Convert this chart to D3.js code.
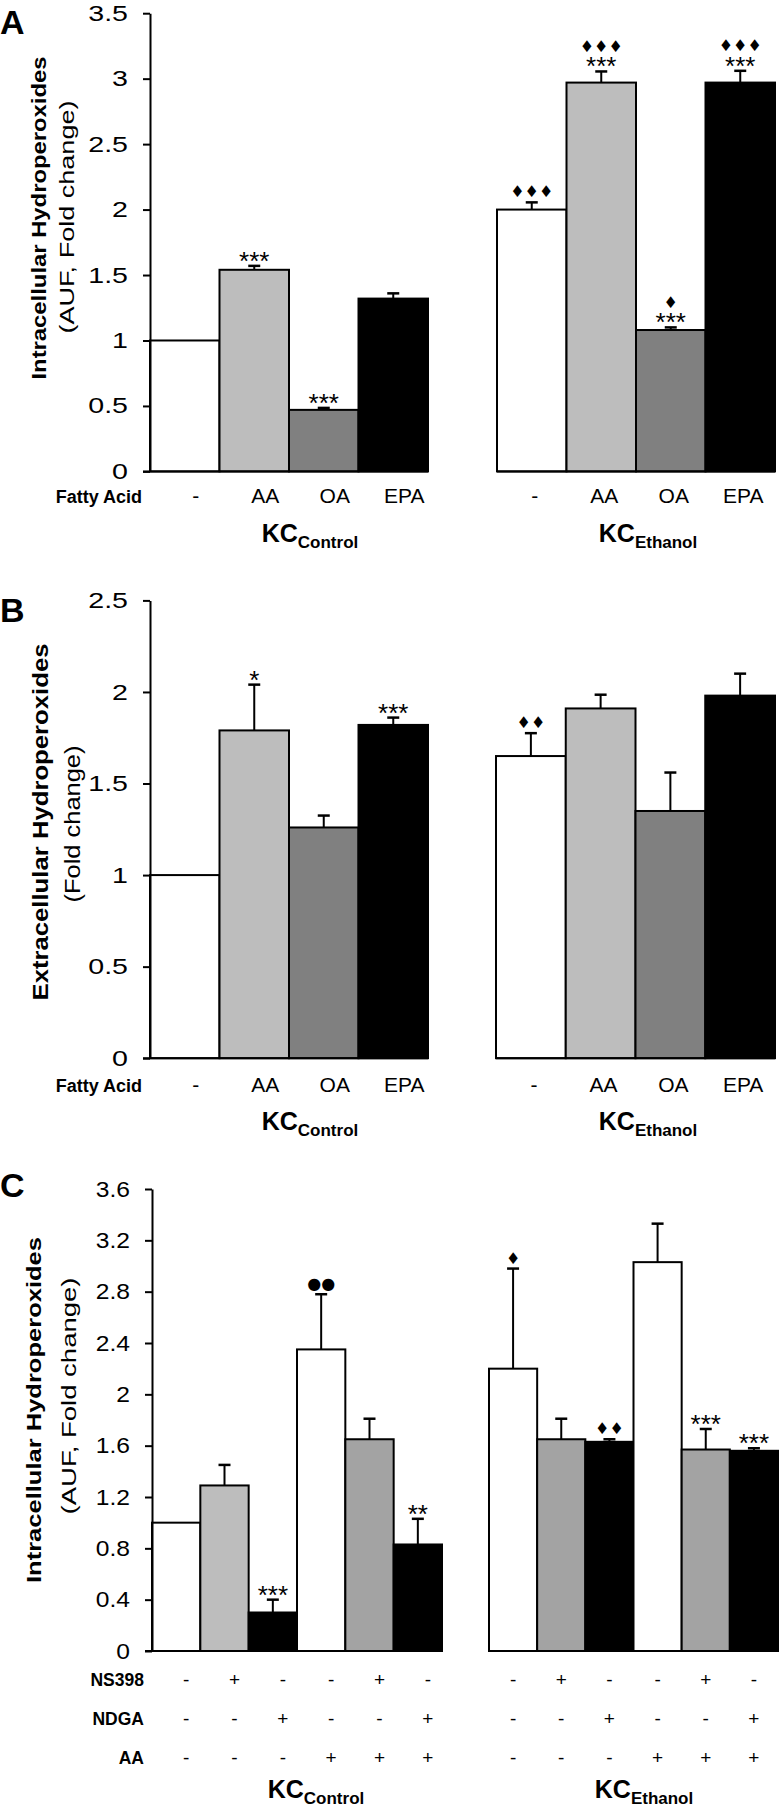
<!DOCTYPE html>
<html><head><meta charset="utf-8">
<script src="https://cdn.jsdelivr.net/npm/d3@7"></script>
<style>body{margin:0;background:#fff}</style>
</head><body><svg id="c" width="780" height="1810" xmlns="http://www.w3.org/2000/svg"></svg>
<script>
// ---------------- DATA ----------------
const fattyAcids = ["-", "AA", "OA", "EPA"];
const groupNames = ["Control", "Ethanol"];
const fattyColors = ["#ffffff", "#bdbdbd", "#808080", "#000000"];

// Panel A: intracellular hydroperoxides (AUF, fold change)
const intraTicks = [0, 0.5, 1, 1.5, 2, 2.5, 3, 3.5];
const intraCtrlMean = [1.00, 1.54, 0.47, 1.32];
const intraCtrlErr  = [0, 0.03, 0.015, 0.04];
const intraEthMean  = [2.00, 2.97, 1.08, 2.97];
const intraEthErr   = [0.055, 0.085, 0.02, 0.09];
const intraCtrlStars = ["", "***", "***", ""];
const intraCtrlMarks = ["", "", "", ""];
const intraEthStars  = ["", "***", "***", "***"];
const intraEthMarks  = ["\u2666\u2666\u2666", "\u2666\u2666\u2666", "\u2666", "\u2666\u2666\u2666"];

// Panel B: extracellular hydroperoxides (fold change)
const extraTicks = [0, 0.5, 1, 1.5, 2, 2.5];
const extraCtrlMean = [1.00, 1.79, 1.26, 1.82];
const extraCtrlErr  = [0, 0.25, 0.065, 0.04];
const extraEthMean  = [1.65, 1.91, 1.35, 1.98];
const extraEthErr   = [0.125, 0.075, 0.21, 0.12];
const extraCtrlStars = ["", "*", "", "***"];
const extraCtrlMarks = ["", "", "", ""];
const extraEthStars  = ["", "", "", ""];
const extraEthMarks  = ["\u2666\u2666", "", "", ""];

// Panel C: inhibitors
const inhibTicks = [0, 0.4, 0.8, 1.2, 1.6, 2, 2.4, 2.8, 3.2, 3.6];
const inhibRows = ["NS398", "NDGA", "AA"];
const ns398Row = ["-", "+", "-", "-", "+", "-"];
const ndgaRow  = ["-", "-", "+", "-", "-", "+"];
const aaRow    = ["-", "-", "-", "+", "+", "+"];
const inhibCtrlMean = [1.00, 1.29, 0.30, 2.35, 1.65, 0.83];
const inhibCtrlErr  = [0, 0.16, 0.10, 0.43, 0.16, 0.20];
const inhibEthMean  = [2.20, 1.65, 1.63, 3.03, 1.57, 1.56];
const inhibEthErr   = [0.78, 0.16, 0.02, 0.30, 0.16, 0.02];
const inhibCtrlColors = ["#ffffff", "#bdbdbd", "#000000", "#ffffff", "#a3a3a3", "#000000"];
const inhibEthColors  = ["#ffffff", "#a3a3a3", "#000000", "#ffffff", "#a3a3a3", "#000000"];
const inhibCtrlStars = ["", "", "***", "", "", "**"];
const inhibCtrlMarks = ["", "", "", "\u25CF\u25CF", "", ""];
const inhibEthStars  = ["", "", "", "", "***", "***"];
const inhibEthMarks  = ["\u2666", "", "\u2666\u2666", "", "", ""];

// ---------------- DRAWING ----------------
const FONT = "'Liberation Sans', Arial, Helvetica, sans-serif";
const SYM = "'DejaVu Sans', sans-serif";
const svg = d3.select("#c");

function drawPanel(cfg) {
  const y = d3.scaleLinear().domain([0, cfg.ticks[cfg.ticks.length - 1]]).range([cfg.yBase, cfg.yTop]);

  cfg.groups.forEach((g, gi) => {
    const x = d3.scaleBand().domain(d3.range(g.mean.length)).range([g.x0, g.x1]).padding(0);
    const gg = svg.append("g");
    // bars
    gg.selectAll("rect").data(g.mean).join("rect")
      .attr("x", (d, i) => x(i)).attr("width", x.bandwidth())
      .attr("y", d => y(d)).attr("height", d => y(0) - y(d))
      .attr("fill", (d, i) => g.colors[i]).attr("stroke", "#000").attr("stroke-width", 2);
    // error bars
    g.mean.forEach((m, i) => {
      const e = g.err[i];
      if (!e) return;
      const cx = x(i) + x.bandwidth() / 2;
      gg.append("line").attr("x1", cx).attr("x2", cx).attr("y1", y(m)).attr("y2", y(m + e))
        .attr("stroke", "#000").attr("stroke-width", 2);
      gg.append("line").attr("x1", cx - 6).attr("x2", cx + 6).attr("y1", y(m + e)).attr("y2", y(m + e))
        .attr("stroke", "#000").attr("stroke-width", 2.5);
    });
    // significance marks (one text element per bar, stacked lines)
    g.mean.forEach((m, i) => {
      const s = g.stars[i], mk = g.marks[i];
      if (!s && !mk) return;
      const cx = x(i) + x.bandwidth() / 2;
      const c = y(m + (g.err[i] || 0)) - 11;
      const t = svg.append("text").attr("text-anchor", "middle");
      if (mk) {
        t.append("tspan").attr("x", cx).attr("y", s ? c - 14.5 + 6 : c + 6)
          .attr("font-family", SYM).attr("font-size", 16).text(mk);
      }
      if (s) {
        t.append("tspan").attr("x", cx).attr("y", c + 15)
          .attr("font-family", FONT).attr("font-size", 26).text(s);
      }
    });
    // baseline
    svg.append("line").attr("x1", gi === 0 ? cfg.axisX - 7 : g.x0).attr("x2", g.x1)
      .attr("y1", y(0)).attr("y2", y(0)).attr("stroke", "#000").attr("stroke-width", 2);
    // category rows
    cfg.rows.forEach(r => {
      r.values.forEach((v, i) => {
        svg.append("text").attr("x", x(i) + x.bandwidth() / 2 + g.labelShift).attr("y", r.y)
          .attr("text-anchor", "middle").attr("font-family", FONT).attr("font-size", cfg.catSize).text(v);
      });
    });
    // group label KC_sub
    const t = svg.append("text").attr("x", g.labelX).attr("y", cfg.kcY).attr("text-anchor", "middle")
      .attr("font-family", FONT).attr("font-weight", "bold");
    t.append("tspan").attr("font-size", 25).text("KC");
    t.append("tspan").attr("font-size", 17).attr("dy", 6).text(g.name);
  });

  // row titles
  cfg.rows.forEach(r => {
    svg.append("text").attr("x", cfg.rowTitleX).attr("y", r.y).attr("text-anchor", "end")
      .attr("font-family", FONT).attr("font-weight", "bold").attr("font-size", cfg.rowTitleSize).text(r.title);
  });

  // y axis
  const ax = svg.append("g").attr("transform", `translate(${cfg.axisX},0)`)
    .call(d3.axisLeft(y).tickValues(cfg.ticks).tickFormat(d => String(d))
      .tickSize(7).tickSizeOuter(0).tickPadding(15));
  ax.attr("font-family", FONT).attr("font-size", 22);
  ax.select(".domain").attr("stroke", "#000").attr("stroke-width", 2);
  ax.selectAll(".tick line").attr("stroke", "#000").attr("stroke-width", 2);
  ax.selectAll(".tick text").attr("fill", "#000")
    .attr("x", -22 / cfg.tickScaleX).attr("transform", `scale(${cfg.tickScaleX},1)`);

  // y titles
  cfg.titles.forEach(tt => {
    svg.append("text").attr("transform", `translate(${tt.x},${tt.cy}) rotate(-90)`)
      .attr("text-anchor", "middle").attr("font-family", FONT)
      .attr("font-weight", tt.bold ? "bold" : "normal").attr("font-size", tt.size)
      .attr("textLength", tt.len).attr("lengthAdjust", "spacingAndGlyphs").text(tt.text);
  });

  // panel letter
  svg.append("text").attr("x", 0).attr("y", cfg.letterY).attr("font-family", FONT)
    .attr("font-weight", "bold").attr("font-size", 34).text(cfg.letter);
}

drawPanel({
  letter: "A", letterY: 34,
  ticks: intraTicks, yBase: 471.4, yTop: 13.2, axisX: 150, tickScaleX: 1.3,
  groups: [
    {x0: 150, x1: 428, mean: intraCtrlMean, err: intraCtrlErr, colors: fattyColors,
     stars: intraCtrlStars, marks: intraCtrlMarks, labelShift: 11, labelX: 310, name: groupNames[0]},
    {x0: 497, x1: 775, mean: intraEthMean, err: intraEthErr, colors: fattyColors,
     stars: intraEthStars, marks: intraEthMarks, labelShift: 3, labelX: 648, name: groupNames[1]}
  ],
  rows: [{title: "Fatty Acid", values: fattyAcids, y: 503}],
  rowTitleX: 142, rowTitleSize: 18, catSize: 21, kcY: 542,
  titles: [
    {text: "Intracellular Hydroperoxides", bold: true, size: 21, x: 46, cy: 218, len: 323},
    {text: "(AUF, Fold change)", bold: false, size: 20, x: 74, cy: 217, len: 233}
  ]
});

drawPanel({
  letter: "B", letterY: 622,
  ticks: extraTicks, yBase: 1058.2, yTop: 600.4, axisX: 150, tickScaleX: 1.3,
  groups: [
    {x0: 150, x1: 428, mean: extraCtrlMean, err: extraCtrlErr, colors: fattyColors,
     stars: extraCtrlStars, marks: extraCtrlMarks, labelShift: 11, labelX: 310, name: groupNames[0]},
    {x0: 496, x1: 775, mean: extraEthMean, err: extraEthErr, colors: fattyColors,
     stars: extraEthStars, marks: extraEthMarks, labelShift: 3, labelX: 648, name: groupNames[1]}
  ],
  rows: [{title: "Fatty Acid", values: fattyAcids, y: 1091.5}],
  rowTitleX: 142, rowTitleSize: 18, catSize: 21, kcY: 1130,
  titles: [
    {text: "Extracellular Hydroperoxides", bold: true, size: 22, x: 48, cy: 822, len: 357},
    {text: "(Fold change)", bold: false, size: 22, x: 80, cy: 824, len: 157}
  ]
});

drawPanel({
  letter: "C", letterY: 1197,
  ticks: inhibTicks, yBase: 1651, yTop: 1189, axisX: 152, tickScaleX: 1.12,
  groups: [
    {x0: 152, x1: 442, mean: inhibCtrlMean, err: inhibCtrlErr, colors: inhibCtrlColors,
     stars: inhibCtrlStars, marks: inhibCtrlMarks, labelShift: 10, labelX: 316, name: groupNames[0]},
    {x0: 489, x1: 778, mean: inhibEthMean, err: inhibEthErr, colors: inhibEthColors,
     stars: inhibEthStars, marks: inhibEthMarks, labelShift: 0, labelX: 644, name: groupNames[1]}
  ],
  rows: [
    {title: inhibRows[0], values: ns398Row, y: 1686},
    {title: inhibRows[1], values: ndgaRow, y: 1725},
    {title: inhibRows[2], values: aaRow, y: 1764}
  ],
  rowTitleX: 144, rowTitleSize: 17.5, catSize: 19, kcY: 1798,
  titles: [
    {text: "Intracellular Hydroperoxides", bold: true, size: 21, x: 41, cy: 1410, len: 346},
    {text: "(AUF, Fold change)", bold: false, size: 20, x: 76, cy: 1396, len: 237}
  ]
});
</script></body></html>
